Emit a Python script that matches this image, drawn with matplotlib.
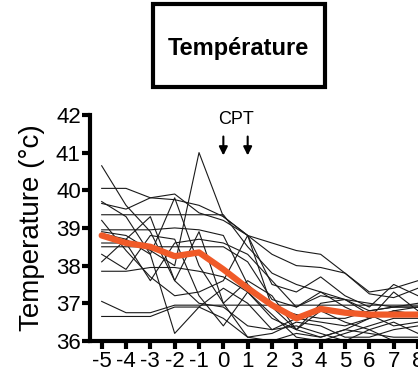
import matplotlib
matplotlib.use("Agg")
import matplotlib.pyplot as plt
from matplotlib.patches import Rectangle

plt.rcParams["font.family"] = ["Liberation Sans", "DejaVu Sans"]
plt.rcParams["axes.unicode_minus"] = False

days = [-5, -4, -3, -2, -1, 0, 1, 2, 3, 4, 5, 6, 7, 8]

# individual animals (°C)
subjects = [
    [40.65, 39.6, 38.9, 37.6, 37.0, 36.9, 36.4, 36.3, 36.6, 36.5, 36.4, 36.6, 36.8, 36.7],
    [40.05, 40.05, 39.8, 39.75, 39.6, 39.3, 38.8, 38.3, 38.0, 37.95, 37.8, 37.25, 37.15, 37.4],
    [39.65, 39.5, 39.8, 39.9, 39.4, 39.2, 38.8, 38.6, 38.4, 38.3, 37.8, 37.3, 37.4, 37.6],
    [39.35, 39.35, 39.35, 39.35, 39.35, 39.35, 38.5, 37.8, 37.5, 37.3, 37.1, 37.0, 36.9, 36.9],
    [38.95, 38.95, 38.95, 39.0, 38.95, 38.8, 37.5, 36.9, 36.7, 36.6, 36.6, 36.8, 36.9, 36.9],
    [38.85, 38.7, 39.3, 37.6, 38.9, 37.0, 36.1, 36.2, 36.5, 36.4, 36.1, 36.1, 36.3, 36.4],
    [38.5, 38.5, 38.5, 38.5, 38.5, 38.5, 38.1, 37.1, 36.9, 37.3, 36.9, 36.6, 37.3, 36.8],
    [38.1, 38.7, 38.3, 39.8, 38.0, 37.0, 37.6, 37.2, 36.3, 37.0, 37.1, 36.7, 36.4, 36.5],
    [37.85, 37.85, 37.95, 37.95, 37.85, 37.7, 37.3, 36.6, 36.3, 36.1, 36.3, 36.6, 36.8, 36.9],
    [37.05, 36.75, 36.75, 36.95, 36.95, 36.95, 36.95, 36.95, 36.95, 36.95, 36.95, 36.95, 36.95, 36.95],
    [36.65, 36.65, 36.65, 36.9, 36.9, 36.6, 36.1, 36.0, 36.2, 36.1, 36.3, 36.2, 36.1, 36.1],
    [39.2, 38.4, 37.7, 37.2, 37.3, 37.6, 38.8, 36.9, 36.3, 36.8, 36.5, 36.3, 36.5, 36.2],
    [39.7, 39.3, 38.3, 36.2, 36.9, 37.4, 37.0, 36.3, 36.4, 36.2, 36.0, 36.3, 36.0, 36.0],
    [38.9, 38.8, 38.4, 38.0, 41.0, 39.3, 38.8, 37.5, 37.3, 37.7, 37.2, 36.9, 37.5, 37.2],
    [38.6, 38.6, 37.6, 38.6, 38.7, 38.6, 38.3, 37.6, 36.9, 37.2, 37.1, 36.8, 36.9, 37.0],
    [38.3, 37.9, 38.8, 38.7, 37.2, 36.4, 37.3, 36.7, 36.1, 36.0, 36.2, 36.4, 36.6, 36.6],
]
mean_temp = [38.8, 38.6, 38.5, 38.25, 38.35, 37.9, 37.4, 36.95, 36.6, 36.85, 36.75, 36.7, 36.7, 36.7]

title = "Température"
cpt_days = [0, 1]

fig = plt.figure(figsize=(4.18, 3.78), dpi=100)
ax = fig.add_axes([0.2165, 0.098, 0.7835, 0.598])

for s in subjects:
    ax.plot(days, s, color="#1a1a1a", lw=0.8, zorder=2)
ax.plot(days, mean_temp, color="#f05a28", lw=4.5, solid_joinstyle="round",
        solid_capstyle="round", zorder=3)

ax.set_xlim(-5.46, 8.0)
ax.set_ylim(36, 42)
ax.set_xticks(days)
ax.set_yticks(range(36, 43))
ax.spines["top"].set_visible(False)
ax.spines["right"].set_visible(False)
for sp in ("left", "bottom"):
    ax.spines[sp].set_linewidth(3)
ax.tick_params(axis="both", width=3, length=6, labelsize=16, pad=1)
ax.set_ylabel("Temperature (°c)", fontsize=20, labelpad=8)

# CPT arrows
ax.text(sum(cpt_days) / 2, 41.87, "CPT", ha="center", va="center",
        fontsize=13, clip_on=False)
for d in cpt_days:
    ax.annotate("", xy=(d, 40.85), xytext=(d, 41.5),
                arrowprops=dict(arrowstyle="-|>,head_width=0.25,head_length=0.5",
                                color="black", lw=1.5),
                annotation_clip=False)

# title box
fig.patches.append(Rectangle((0.367, 0.77), 0.41, 0.22, transform=fig.transFigure,
                             fill=False, edgecolor="black", lw=3))
fig.text(0.571, 0.855, title, ha="center", va="baseline", fontsize=17,
         fontweight="bold")

fig.savefig("out.png", dpi=100)
